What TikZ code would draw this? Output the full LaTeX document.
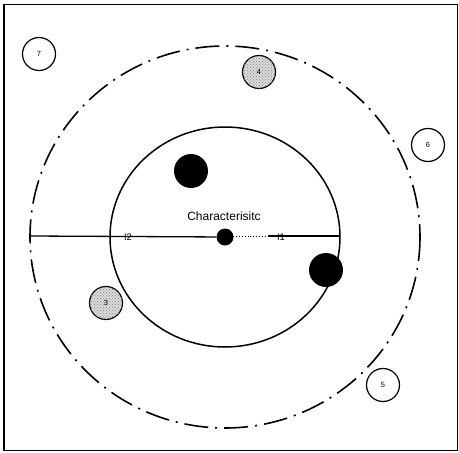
\documentclass[tikz,border=0pt]{standalone}
\usepackage{fontspec}
\setmainfont{Liberation Sans}
\usetikzlibrary{patterns}
\begin{document}
\begin{tikzpicture}[x=1pt,y=-1pt,
  numcirc/.style={circle,draw,line width=1.2pt,minimum size=33pt,inner sep=0pt,font=\fontsize{7.5}{8}\selectfont},
  graycirc/.style={numcirc,fill=black!15,postaction={pattern=crosshatch dots,pattern color=black!45}},
  bigdot/.style={circle,fill=black,minimum size=34pt,inner sep=0pt},
  dashdot/.style={line width=1.6pt,dash pattern=on 24pt off 7pt on 2pt off 7pt},
  lbl/.style={font=\fontsize{9.5}{10}\selectfont,inner sep=0pt}]
\useasboundingbox (0,0) rectangle (459,453);
\draw[line width=1pt] (4,4) rectangle (457,450);
% circles
\draw[dashdot] (225,237) ellipse [x radius=195, y radius=191];
\draw[line width=1.5pt] (225,237) ellipse [x radius=115, y radius=110];
% axis
\coordinate (L) at (30,236);
\coordinate (R) at (340,236);
\coordinate (D1) at (233,236);
\coordinate (D2) at (268,236);
\node[circle,fill=black,minimum size=17pt,inner sep=0pt] (c) at (225,237) {};
\draw[line width=1.3pt] (L) -- (c);
\draw[line width=0.9pt,dotted] (D1) -- (D2);
\draw[line width=1.3pt] (D2) -- (R);
\node[lbl] (i2) at (128,237) {I2};
\node[lbl] (i1) at (281,237) {I1};
\node[font=\fontsize{12}{13}\selectfont,inner sep=0pt] (t) at (224,216) {Characterisitc};
% big dots
\node[bigdot] (b1) at (191,171) {};
\node[bigdot] (b2) at (326,270) {};
% numbered circles
\node[graycirc] (n4) at (259,72) {4};
\node[graycirc] (n3) at (106,303) {3};
\node[numcirc] (n7) at (39,54) {7};
\node[numcirc] (n6) at (428,145) {6};
\node[numcirc] (n5) at (383,385) {5};
\end{tikzpicture}
\end{document}
